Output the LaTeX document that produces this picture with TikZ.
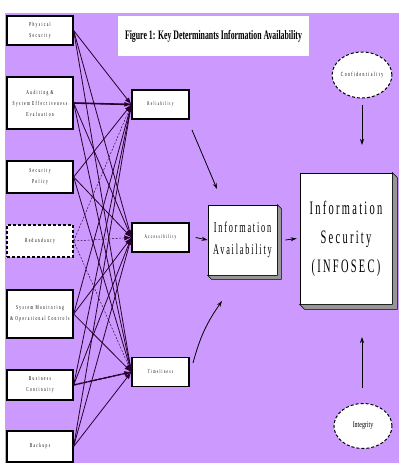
\documentclass[tikz,border=0pt]{standalone}
\usepackage{fontspec}
\setmainfont{Liberation Serif}
\newfontfamily\spf[FakeStretch=0.6,LetterSpace=22]{Liberation Serif}
\newfontfamily\bigf[FakeStretch=0.55,LetterSpace=12]{Liberation Serif}
\newfontfamily\condf[FakeStretch=0.7]{Liberation Serif}
\newfontfamily\titf[FakeStretch=0.6]{Liberation Serif}
\usetikzlibrary{shapes.geometric,arrows.meta,calc}
\definecolor{bgpurple}{RGB}{204,153,255}
\definecolor{lnc}{RGB}{40,0,45}
\definecolor{shadowgray}{RGB}{150,150,150}
\begin{document}
\begin{tikzpicture}[x=1pt,y=-1pt,
 lbox/.style={draw=black,line width=1.3pt,fill=white,minimum width=66pt,inner sep=0pt,align=center,font=\spf\fontsize{6}{11}\selectfont},
 mbox/.style={draw=black,line width=1.3pt,fill=white,minimum width=57pt,minimum height=29pt,inner sep=0pt,font=\spf\fontsize{5.5}{7}\selectfont},
 conn/.style={draw=lnc,line width=0.8pt,-{Latex[length=7pt,width=5pt]}},
 dconn/.style={draw=lnc,line width=0.45pt,dash pattern=on 2pt off 1.5pt,-{Latex[length=7pt,width=5pt]}},
 ell/.style={ellipse,draw=black,line width=1pt,dash pattern=on 3pt off 2pt,fill=white,inner sep=0pt},
 arr/.style={draw=black,line width=0.8pt,-{Stealth[length=6pt,width=4pt]}},
 bigbox/.style={draw=black,line width=0.8pt,fill=white,inner sep=0pt,align=center}]
\useasboundingbox (0,0) rectangle (408,464);
\fill[bgpurple] (5,13) rectangle (399,463);
% title
\node[fill=white,minimum width=191pt,minimum height=40pt,inner sep=0pt,font=\titf\bfseries\fontsize{13}{14}\selectfont] (title) at (213.5,36) {Figure 1: Key Determinants Information Availability};
% left boxes
\node[lbox,minimum height=29pt] (ps) at (40,30.5) {Physical\\Security};
\node[lbox,minimum height=52pt] (au) at (40,103) {Auditing \&\\System Effectiveness\\Evaluation};
\node[lbox,minimum height=32pt] (sp) at (40,177) {Security\\Policy};
\node[lbox,minimum height=32pt,dash pattern=on 3pt off 2pt] (rd) at (40,241) {Redundancy};
\node[lbox,minimum height=48pt] (sm) at (40,314) {System Monitoring\\\& Operational Controls};
\node[lbox,minimum height=30pt] (bc) at (40,385) {Business\\Continuity};
\node[lbox,minimum height=31pt] (bk) at (40,446.5) {Backups};
% middle boxes
\node[mbox] (rel) at (160.5,104.5) {Reliability};
\node[mbox] (acc) at (160.5,237.5) {Accessibility};
\node[mbox] (tim) at (160.5,372) {Timeliness};
% connectors
\foreach \s in {ps,au,sp,sm,bc,bk}{
  \foreach \t in {rel,acc,tim}{
    \draw[conn] (\s.east) -- (\t.west);
  }
}
\foreach \t in {rel,acc,tim}{
  \draw[dconn] (rd.east) -- (\t.west);
}
\draw[draw=lnc,line width=1.6pt] (au.east) -- (rel.west);
\draw[draw=lnc,line width=1.4pt,dash pattern=on 4pt off 1pt] (bc.east) -- (tim.west);
% big boxes
\node[bigbox,minimum width=69pt,minimum height=70pt,font=\bigf\fontsize{15}{22}\selectfont] (ia) at (242.5,240) {Information\\Availability};
\filldraw[fill=shadowgray,draw=black,line width=0.5pt] (ia.north east) -- ($(ia.north east)+(4,4)$) -- ($(ia.south east)+(4,4)$) -- ($(ia.south west)+(4,4)$) -- (ia.south west) -- (ia.south east) -- cycle;
\node[bigbox,minimum width=92pt,minimum height=131pt,font=\bigf\fontsize{19}{29}\selectfont] (is) at (346,238.5) {Information\\Security\\(INFOSEC)};
\filldraw[fill=shadowgray,draw=black,line width=0.5pt] (is.north east) -- ($(is.north east)+(5,5)$) -- ($(is.south east)+(5,5)$) -- ($(is.south west)+(5,5)$) -- (is.south west) -- (is.south east) -- cycle;
% ellipses
\node[ell,minimum width=59pt,minimum height=46pt,font=\spf\fontsize{6.3}{8}\selectfont] (conf) at (362,75) {Confidentiality};
\node[ell,minimum width=58pt,minimum height=45pt,font=\condf\fontsize{8.5}{10}\selectfont] (integ) at (363,426) {Integrity};
% arrows
\coordinate (r1) at (192,130); \coordinate (r2) at (217,189);
\draw[arr] (r1) -- (r2);
\coordinate (t1) at (193,363); \coordinate (t2) at (222,301);
\draw[arr] (t1) to[bend left=10] (t2);
\draw[arr] ($(acc.east)+(6,0)$) -- (ia.west);
\draw[arr] ($(ia.east)+(8,0)$) -- ($(is.west)+(-3,0)$);
\coordinate (c1) at (362,105); \coordinate (c2) at (362,145);
\draw[arr] (c1) -- (c2);
\coordinate (g1) at (362,388); \coordinate (g2) at (362,337);
\draw[arr] (g1) -- (g2);
\end{tikzpicture}
\end{document}
